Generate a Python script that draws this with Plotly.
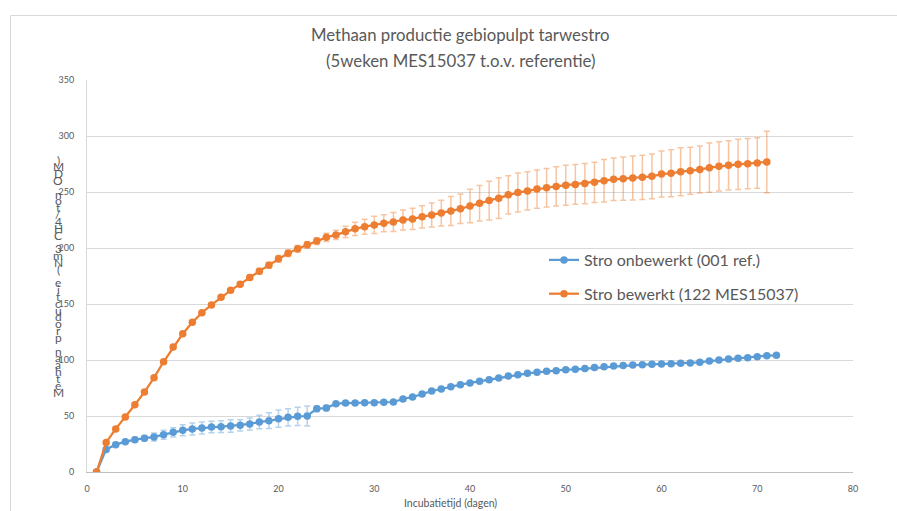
import plotly.graph_objects as go

# Incubation days
days_ref = list(range(1, 73))
days_treated = list(range(1, 72))

# Cumulative methane production, untreated straw (001 ref.)
ch4_ref = [
    0, 20.2, 24.4, 27.1, 28.9, 30.1, 31.3, 33.3, 35.4, 37.2,
    38.4, 39.3, 40.2, 40.5, 41.1, 41.7, 42.9, 44.6, 45.8, 47.6,
    48.8, 49.7, 50.0, 56.5, 57.1, 61.0, 61.5, 61.6, 61.9, 61.9,
    62.2, 62.5, 65.2, 67.0, 69.6, 72.3, 74.1, 76.2, 78.0, 79.5,
    81.0, 82.4, 83.9, 85.7, 86.9, 88.1, 89.0, 89.9, 90.5, 91.4,
    91.7, 92.3, 93.2, 94.0, 94.6, 95.2, 95.5, 95.8, 96.1, 96.4,
    96.7, 97.0, 97.3, 97.9, 99.1, 100.0, 100.9, 101.5, 102.1, 103.0,
    103.9, 104.2,
]
err_ref = [
    0, 1.0, 1.5, 1.5, 2.2, 2.5, 3.6, 4.0, 4.2, 4.9,
    5.4, 5.4, 5.2, 5.2, 5.5, 5.0, 5.4, 6.0, 7.0, 7.7,
    7.7, 8.2, 8.9, 2.5, 2.5, 1.0, 1.0, 1.0, 1.0, 1.0,
    1.0, 1.0, 1.0, 1.0, 1.0, 1.0, 1.0, 1.0, 1.0, 1.0,
    1.0, 1.0, 1.0, 1.0, 1.0, 1.0, 1.0, 1.0, 1.0, 1.0,
    1.0, 1.0, 1.0, 1.0, 1.0, 1.0, 1.0, 1.0, 1.0, 1.0,
    1.0, 1.0, 1.0, 1.0, 1.0, 1.0, 1.0, 1.0, 1.0, 1.0,
    1.0, 1.0,
]

# Cumulative methane production, treated straw (122 MES15037)
ch4_treated = [
    0, 26.4, 38.5, 49.0, 60.0, 71.4, 84.2, 98.4, 111.5, 123.4,
    133.6, 142.2, 149.2, 156.1, 162.2, 167.7, 173.7, 179.3, 184.7, 190.3,
    195.3, 199.3, 202.8, 206.2, 209.5, 211.7, 214.4, 217.1, 219.0, 220.6,
    222.0, 223.3, 225.0, 226.0, 227.8, 229.5, 231.2, 233.0, 235.0, 237.5,
    240.0, 242.3, 244.5, 247.5, 249.5, 251.0, 252.6, 253.8, 255.0, 256.0,
    256.8, 257.5, 258.6, 260.1, 261.3, 261.9, 262.5, 263.1, 264.0, 266.0,
    266.7, 268.1, 269.0, 270.0, 271.7, 272.9, 273.8, 274.7, 275.3, 275.9,
    276.8,
]
err_treated = [
    0, 1.0, 1.0, 1.0, 1.0, 1.0, 1.0, 1.0, 1.0, 1.0,
    1.5, 1.5, 1.5, 1.5, 1.5, 2.0, 2.5, 2.5, 2.5, 3.0,
    3.0, 3.0, 3.0, 3.0, 3.7, 4.2, 5.0, 6.0, 6.7, 7.7,
    7.6, 8.5, 8.9, 9.4, 10.0, 10.7, 11.5, 12.9, 13.2, 14.9,
    15.8, 17.3, 18.2, 17.1, 17.4, 17.1, 17.1, 17.1, 17.6, 17.8,
    17.8, 17.9, 18.0, 19.0, 19.0, 19.3, 19.6, 19.8, 20.0, 20.5,
    21.0, 21.5, 21.0, 21.0, 22.0, 22.0, 22.0, 22.5, 22.5, 22.5,
    27.5,
]

series_names = ["Stro onbewerkt (001 ref.)", "Stro bewerkt (122 MES15037)"]
title_lines = ["Methaan productie gebiopulpt tarwestro", "(5weken MES15037 t.o.v. referentie)"]
x_title = "Incubatietijd (dagen)"
y_title = "Methaan productie (Nm3 CH4/ton ODM)"
x_ticks = [0, 10, 20, 30, 40, 50, 60, 70, 80]
y_ticks = [0, 50, 100, 150, 200, 250, 300, 350]

BLUE = "#5B9BD5"
ORANGE = "#ED7D31"
TEXT = "#595959"
FONT = "Lato, 'Open Sans', sans-serif"

W, H = 897, 511
ML, MR, MT, MB = 87, 44, 80, 39
PW, PH = W - ML - MR, H - MT - MB


def px_to_paper(px, py):
    return (px - ML) / PW, (H - MB - py) / PH


fig = go.Figure()

fig.add_trace(go.Scatter(
    x=days_ref, y=ch4_ref, name=series_names[0], legendgroup="a",
    mode="lines+markers",
    line=dict(color=BLUE, width=2.25),
    marker=dict(color=BLUE, size=7.5, symbol="circle"),
    error_y=dict(type="data", array=err_ref, visible=True,
                 color="rgba(91,155,213,0.45)", thickness=1.5, width=3),
))
fig.add_trace(go.Scatter(
    x=days_treated, y=ch4_treated, name=series_names[1], legendgroup="b",
    mode="lines+markers",
    line=dict(color=ORANGE, width=2.25),
    marker=dict(color=ORANGE, size=7.5, symbol="circle"),
    error_y=dict(type="data", array=err_treated, visible=True,
                 color="rgba(237,125,49,0.45)", thickness=1.5, width=3),
))

annotations = []
# Two-line chart title
for i, line in enumerate(title_lines):
    tx, ty = px_to_paper(460, 35 + 25 * i)
    annotations.append(dict(
        text=line, x=tx, y=ty, xref="paper", yref="paper",
        xanchor="center", yanchor="middle", showarrow=False,
        font=dict(family=FONT, size=16.8, color=TEXT),
    ))

# Stacked vertical y-axis title, read from bottom to top
chars = list(y_title)
top_py, bottom_py = 160, 392
step = (bottom_py - top_py) / (len(chars) - 1)
for i, ch in enumerate(chars):
    if ch == " ":
        continue
    py = bottom_py - i * step
    cx, cy = px_to_paper(58, py)
    annotations.append(dict(
        text=ch, x=cx, y=cy, xref="paper", yref="paper",
        xanchor="center", yanchor="middle", showarrow=False,
        font=dict(family=FONT, size=12, color=TEXT),
    ))

# X-axis title
xt_x, xt_y = px_to_paper(450, 503)
annotations.append(dict(
    text=x_title, x=xt_x, y=xt_y, xref="paper", yref="paper",
    xanchor="center", yanchor="middle", showarrow=False,
    font=dict(family=FONT, size=10.5, color=TEXT),
))

# Chart frame
fx0, fy0 = px_to_paper(10.5, 520)
fx1, fy1 = px_to_paper(910, 15.5)

fig.update_layout(
    width=W, height=H,
    margin=dict(l=ML, r=MR, t=MT, b=MB, pad=0, autoexpand=False),
    paper_bgcolor="white", plot_bgcolor="white",
    font=dict(family=FONT, color=TEXT),
    showlegend=True,
    legend=dict(
        x=px_to_paper(544, 0)[0], y=px_to_paper(0, 243)[1],
        xanchor="left", yanchor="top",
        bgcolor="rgba(0,0,0,0)", borderwidth=0,
        font=dict(family=FONT, size=16, color=TEXT),
        tracegroupgap=10, itemwidth=30,
    ),
    annotations=annotations,
    shapes=[dict(type="rect", xref="paper", yref="paper",
                 x0=fx0, y0=fy0, x1=fx1, y1=fy1,
                 line=dict(color="#D9D9D9", width=1), layer="below")],
    xaxis=dict(
        range=[0, 80], tickvals=x_ticks, showgrid=False, zeroline=False,
        showline=True, linecolor="#BFBFBF", linewidth=1, automargin=False,
        ticks="", ticklabelstandoff=8,
        tickfont=dict(family=FONT, size=9, color=TEXT),
    ),
    yaxis=dict(
        range=[0, 350], tickvals=y_ticks, showgrid=True, gridcolor="#D9D9D9",
        gridwidth=1, zeroline=False, showline=True, linecolor="#D9D9D9",
        automargin=False, ticks="", ticklabelstandoff=10,
        tickfont=dict(family=FONT, size=9, color=TEXT),
    ),
)

fig.write_html("out.html")
